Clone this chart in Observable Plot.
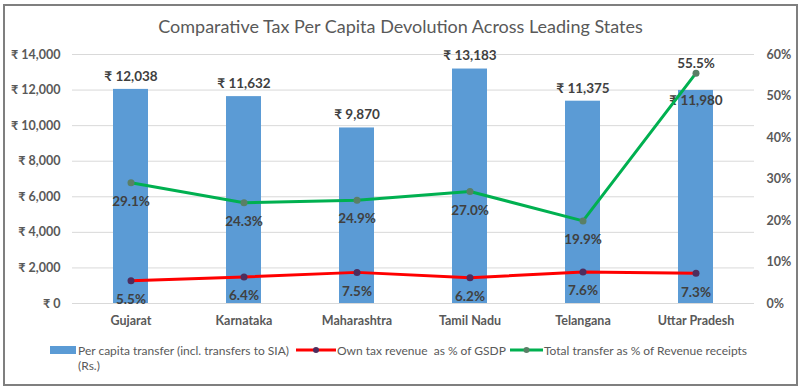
<!DOCTYPE html>
<html>
<head>
<meta charset="utf-8">
<script src="https://cdn.jsdelivr.net/npm/d3@7"></script>
<script src="https://cdn.jsdelivr.net/npm/@observablehq/plot@0.6"></script>
<style>
  body { margin:0; background:#fff; font-family: Lato, "Open Sans", sans-serif; }
  #frame { position:absolute; left:3px; top:4px; width:791px; height:378px; border:2px solid #7f7f7f; }
  #title { position:absolute; left:0; top:15px; width:801px; text-align:center; font-size:18px; color:#595959; }
  #chart { position:absolute; left:0; top:0; }
  .lg { position:absolute; font-size:12px; color:#595959; white-space:nowrap; }
</style>
</head>
<body>
<div id="frame"></div>
<div id="title">Comparative Tax Per Capita Devolution Across Leading States</div>
<div id="chart"></div>
<div id="legend"></div>
<script>
const states = ["Gujarat", "Karnataka", "Maharashtra", "Tamil Nadu", "Telangana", "Uttar Pradesh"];
const perCapita = [12038, 11632, 9870, 13183, 11375, 11980];
const ownTaxPct = [5.5, 6.4, 7.5, 6.2, 7.6, 7.3];
const totalTransferPct = [29.1, 24.3, 24.9, 27.0, 19.9, 55.5];
const leftTicks = [0, 2000, 4000, 6000, 8000, 10000, 12000, 14000];
const rightTicks = [0, 10, 20, 30, 40, 50, 60];
const seriesNames = ["Per capita transfer (incl. transfers to SIA)", "Own tax revenue  as % of GSDP", "Total transfer as % of Revenue receipts"];

const yMax = 14000, pMax = 60;
const toY = p => p * yMax / pMax;
const rows = states.map((s, i) => ({state: s, pc: perCapita[i], own: ownTaxPct[i], tot: totalTransferPct[i]}));
const isUP = d => d.state === "Uttar Pradesh";
const notUP = d => !isUP(d);

const rupee = v => "₹ " + d3.format(",")(v);
const pct = v => v.toFixed(1) + "%";
const blue = "#5b9bd5", red = "#ff0000", green = "#00b050";
const labelColor = "#404040";
const lab = {fontWeight: "bold", fill: labelColor, fontSize: 13.5, textAnchor: "middle"};

const chart = Plot.plot({
  width: 801, height: 335,
  marginTop: 54, marginBottom: 32, marginLeft: 72, marginRight: 47,
  style: {fontFamily: "Lato, 'Open Sans', sans-serif", fontSize: "12.5px", color: "#595959", background: "transparent"},
  x: {domain: states, paddingInner: 0.69, paddingOuter: 0.345, label: null},
  y: {domain: [0, yMax], label: null},
  marks: [
    Plot.ruleY(leftTicks, {stroke: "#d9d9d9", strokeWidth: 1}),
    Plot.axisY({ticks: leftTicks, tickSize: 0, tickPadding: 12, tickFormat: rupee, label: null, fontWeight: "bold", fill: "#595959"}),
    Plot.axisY({anchor: "right", ticks: rightTicks.map(toY), tickSize: 0, tickPadding: 12,
      tickFormat: v => Math.round(v * pMax / yMax) + "%", label: null, fontWeight: "bold", fill: "#595959", textAnchor: "start"}),
    Plot.axisX({tickSize: 0, tickPadding: 13, label: null, fontWeight: "bold", fill: "#595959"}),
    Plot.barY(rows, {x: "state", y: "pc", fill: blue}),
    Plot.text(rows.filter(notUP), {x: "state", y: "pc", text: d => rupee(d.pc), dy: -13, ...lab}),
    Plot.text(rows.filter(isUP), {x: "state", y: "pc", text: d => rupee(d.pc), dy: 10, ...lab}),
    Plot.line(rows, {x: "state", y: d => toY(d.own), stroke: red, strokeWidth: 3}),
    Plot.dot(rows, {x: "state", y: d => toY(d.own), r: 3.5, fill: "#4e2d5e", stroke: "none"}),
    Plot.line(rows, {x: "state", y: d => toY(d.tot), stroke: green, strokeWidth: 3}),
    Plot.dot(rows, {x: "state", y: d => toY(d.tot), r: 3.5, fill: "#5a7f66", stroke: "none"}),
    Plot.text(rows, {x: "state", y: d => toY(d.own), text: d => pct(d.own), dy: 19, ...lab}),
    Plot.text(rows.filter(notUP), {x: "state", y: d => toY(d.tot), text: d => pct(d.tot), dy: 19, ...lab}),
    Plot.text(rows.filter(isUP), {x: "state", y: d => toY(d.tot), text: d => pct(d.tot), dy: -10, ...lab})
  ]
});
document.getElementById("chart").appendChild(chart);

// legend
const lg = document.getElementById("legend");
lg.innerHTML = `
  <div style="position:absolute;left:50px;top:346px;width:26px;height:8px;background:${blue}"></div>
  <div class="lg" style="left:78px;top:343px;">${seriesNames[0]}</div>
  <div class="lg" style="left:78px;top:358px;">(Rs.)</div>
  <svg style="position:absolute;left:296px;top:344px" width="40" height="12">
    <line x1="0" x2="40" y1="6" y2="6" stroke="${red}" stroke-width="3"/>
    <circle cx="20" cy="6" r="3" fill="#4e2d5e"/></svg>
  <div class="lg" style="left:337px;top:343px;">${seriesNames[1].replace("  ", "&nbsp; ")}</div>
  <svg style="position:absolute;left:510px;top:344px" width="33" height="12">
    <line x1="0" x2="33" y1="6" y2="6" stroke="${green}" stroke-width="3"/>
    <circle cx="16.5" cy="6" r="3" fill="#5a7f66"/></svg>
  <div class="lg" style="left:544px;top:343px;">${seriesNames[2]}</div>
`;
</script>
</body>
</html>
